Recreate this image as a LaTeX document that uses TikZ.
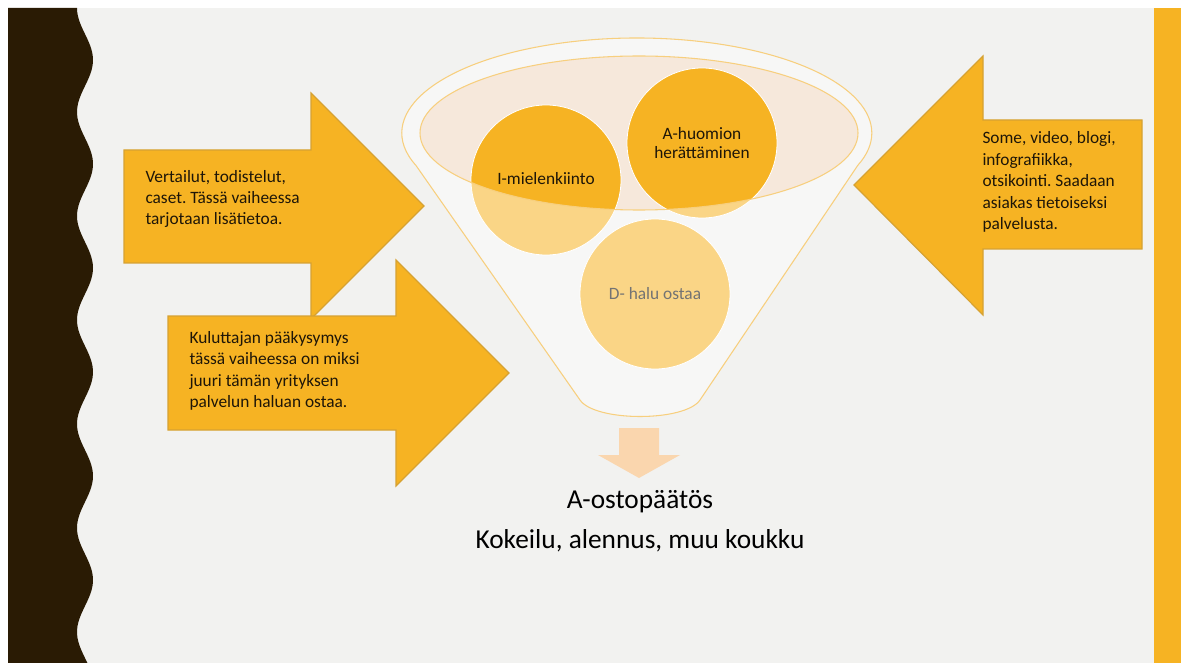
\documentclass[tikz,border=0pt]{standalone}
\usepackage{fontspec}
\setmainfont{Carlito}
\frenchspacing

\definecolor{slidegray}{HTML}{F2F2F0}
\definecolor{darkband}{HTML}{2A1B04}
\definecolor{aidaorange}{HTML}{F6B323}
\definecolor{arrowedge}{HTML}{D6A233}
\definecolor{funneledge}{HTML}{F7CF7E}
\definecolor{mouthfill}{HTML}{F6E8DB}
\definecolor{downpeach}{HTML}{FAD6AE}
\definecolor{inktext}{HTML}{1E1608}

\tikzset{every picture/.style={line width=0.75pt}}
\tikzset{
  blockarrow/.style={draw=arrowedge, fill=aidaorange, line width=0.9},
  arrowtext/.style={anchor=west, inner sep=0, align=left, text=inktext, font=\fontsize{13}{16.1}\selectfont},
  stagecircle/.style={draw=white, fill=aidaorange, line width=0.6},
  stagetext/.style={inner sep=0, align=center, text=inktext, font=\fontsize{13}{14.5}\selectfont},
  bigtext/.style={anchor=base, inner sep=0, text=black, font=\fontsize{20.5}{30}\selectfont},
}

\begin{document}
\begin{tikzpicture}[x=0.75pt,y=0.75pt,yscale=-1,xscale=1]

\useasboundingbox (0,0) rectangle (1186,663);
\fill [white] (0,0) rectangle (1186,663);
\fill [slidegray] (8,8) rectangle (1181,663);

% slide borders
\fill [darkband] (8,8) -- plot [variable=\t, domain=8:663, samples=180, smooth] ({85-8*cos(3.4615*(\t-8))},\t) -- (8,663) -- cycle ;
\fill [aidaorange] (1154,8) rectangle (1181,663);

% block arrows
\draw [blockarrow] (124,150) -- (311,150) -- (311,93) -- (424,206) -- (311,319) -- (311,263) -- (124,263) -- cycle ;
\draw [blockarrow] (1142,120) -- (983,120) -- (983,56) -- (854,185) -- (983,315) -- (983,249) -- (1142,249) -- cycle ;
\draw [blockarrow] (168,316) -- (396,316) -- (396,260) -- (509,373) -- (396,486) -- (396,430) -- (168,430) -- cycle ;

\node [arrowtext] (compareTxt) at (145,199) {Vertailut, todistelut,\\caset. Tässä vaiheessa\\tarjotaan lisätietoa.};
\node [arrowtext] (questionTxt) at (189,371) {Kuluttajan pääkysymys\\tässä vaiheessa on miksi\\juuri tämän yrityksen\\palvelun haluan ostaa.};
\node [arrowtext] (channelTxt) at (982,182) {Some, video, blogi,\\infografiikka,\\otsikointi. Saadaan\\asiakas tietoiseksi\\palvelusta.};

% funnel mouth and stages
\fill [mouthfill] (639,133) ellipse [x radius=219, y radius=77];
\draw [stagecircle] (702,143) circle [radius=75];
\draw [stagecircle] (546,180) circle [radius=75];
\draw [stagecircle] (655,294) circle [radius=75];

\node [stagetext] (attentionTxt) at (702,143) {A-huomion\\herättäminen};
\node [stagetext, anchor=base] (interestTxt) at (546,185) {I-mielenkiinto};
\node [stagetext, anchor=base, text=black] (desireTxt) at (655,300) {D- halu ostaa};

% funnel body over the stages
\path [fill=white, fill opacity=0.45, draw=funneledge, line width=0.8, even odd rule]
  (416,165.5) arc [start angle=160, end angle=380, x radius=235, y radius=95]
  -- (700,400) .. controls (685,422) and (595,422) .. (580,400) -- cycle
  (639,133) ellipse [x radius=219, y radius=77];

% result
\fill [downpeach] (619,428) -- (659,428) -- (659,455) -- (680,455) -- (639,478) -- (598,455) -- (619,455) -- cycle ;

\node [bigtext] (decisionTxt) at (640,508) {A-ostopäätös};
\node [bigtext] (hookTxt) at (640,548) {Kokeilu, alennus, muu koukku};

\end{tikzpicture}
\end{document}
